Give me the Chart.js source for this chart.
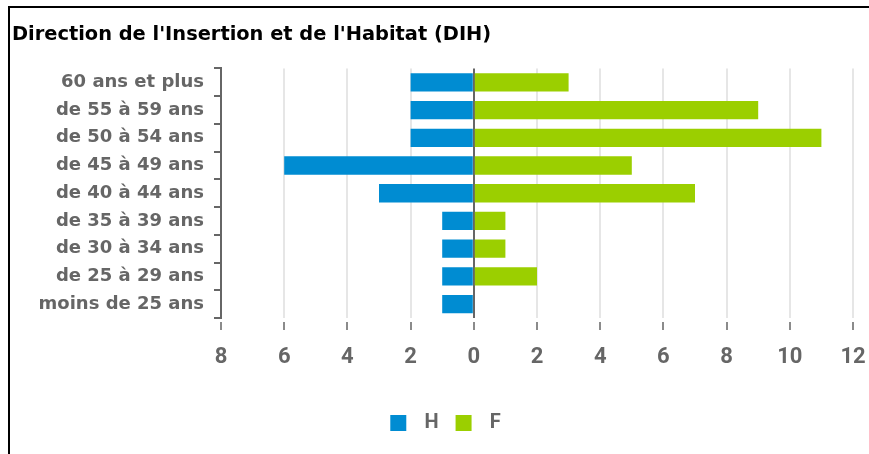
<!DOCTYPE html>
<html>
<head>
<meta charset="utf-8">
<script src="https://cdn.jsdelivr.net/npm/chart.js@4"></script>
<style>
html,body{margin:0;padding:0;background:#fff;width:869px;height:454px;overflow:hidden;}
#frame{position:absolute;left:8px;top:6px;width:861px;height:448px;border-top:2px solid #000;border-left:2px solid #000;box-sizing:border-box;}
#wrap{position:absolute;left:10px;top:8px;width:859px;height:446px;}
</style>
</head>
<body>
<div id="frame"></div>
<div id="wrap"><canvas id="c"></canvas></div>
<script>
const title = "Direction de l'Insertion et de l'Habitat (DIH)";
const categories = ["60 ans et plus","de 55 à 59 ans","de 50 à 54 ans","de 45 à 49 ans","de 40 à 44 ans","de 35 à 39 ans","de 30 à 34 ans","de 25 à 29 ans","moins de 25 ans"];
const hommes = [2, 2, 2, 6, 3, 1, 1, 1, 1];
const femmes = [3, 9, 11, 5, 7, 1, 1, 2, 0];
const seriesNames = ["H", "F"];
const xMin = -8, xMax = 12, xStep = 2;

const narrow = "'Liberation Sans Narrow', 'Roboto', 'Liberation Sans', sans-serif";
const wide = "'DejaVu Sans', 'Liberation Sans', sans-serif";

const shiftLegend = {
  id: 'shiftLegend',
  afterLayout(chart) {
    const lg = chart.legend;
    if (lg) { lg.left += 13; lg.right += 13; }
  }
};

new Chart(document.getElementById('c'), {
  type: 'bar',
  data: {
    labels: categories,
    datasets: [
      { label: seriesNames[0], data: hommes.map(v => -v), backgroundColor: '#008CD2', borderWidth: 0, barPercentage: 0.66, categoryPercentage: 1 },
      { label: seriesNames[1], data: femmes, backgroundColor: '#9BCF00', borderWidth: 0, barPercentage: 0.66, categoryPercentage: 1 }
    ]
  },
  plugins: [shiftLegend],
  options: {
    indexAxis: 'y',
    responsive: true,
    maintainAspectRatio: false,
    animation: false,
    layout: { padding: { left: 2, right: 16, top: 0, bottom: 11 } },
    plugins: {
      title: { display: true, text: title, align: 'start', color: '#000',
        font: { family: wide, size: 19.4, weight: 'bold', lineHeight: 1.2 },
        padding: { top: 15.4, bottom: 21.8 } },
      legend: { position: 'bottom',
        labels: { boxWidth: 16, boxHeight: 16, padding: 17, color: '#666',
          font: { family: narrow, size: 20, weight: 'bold' },
          generateLabels: chart => Chart.defaults.plugins.legend.labels.generateLabels(chart)
            .map(it => Object.assign(it, { text: '\u2009\u2009' + it.text }))
        } },
      tooltip: { enabled: false }
    },
    scales: {
      x: {
        stacked: true, min: xMin, max: xMax,
        ticks: { stepSize: xStep, color: '#666', padding: 14,
          font: { family: narrow, size: 22, weight: 'bold' },
          callback: v => Math.abs(v) },
        grid: {
          color: ctx => (ctx.tick && ctx.tick.value === 0) ? '#666' : '#e6e6e6',
          lineWidth: 2, tickLength: 12, tickColor: '#666', tickWidth: 1.5,
          tickBorderDash: [0, 4, 8, 0]
        },
        border: { display: false },
        afterFit: s => { s.height = 78; s.paddingRight = 0; s.paddingLeft = 0; }
      },
      y: {
        stacked: true,
        ticks: { color: '#666', padding: 10, font: { family: wide, size: 18, weight: 'bold' } },
        grid: { offset: true, drawOnChartArea: false, tickLength: 7, color: '#666', lineWidth: 2 },
        border: { display: true, color: '#666', width: 2 },
        afterFit: s => { s.width = 209; }
      }
    }
  }
});
</script>
</body>
</html>
